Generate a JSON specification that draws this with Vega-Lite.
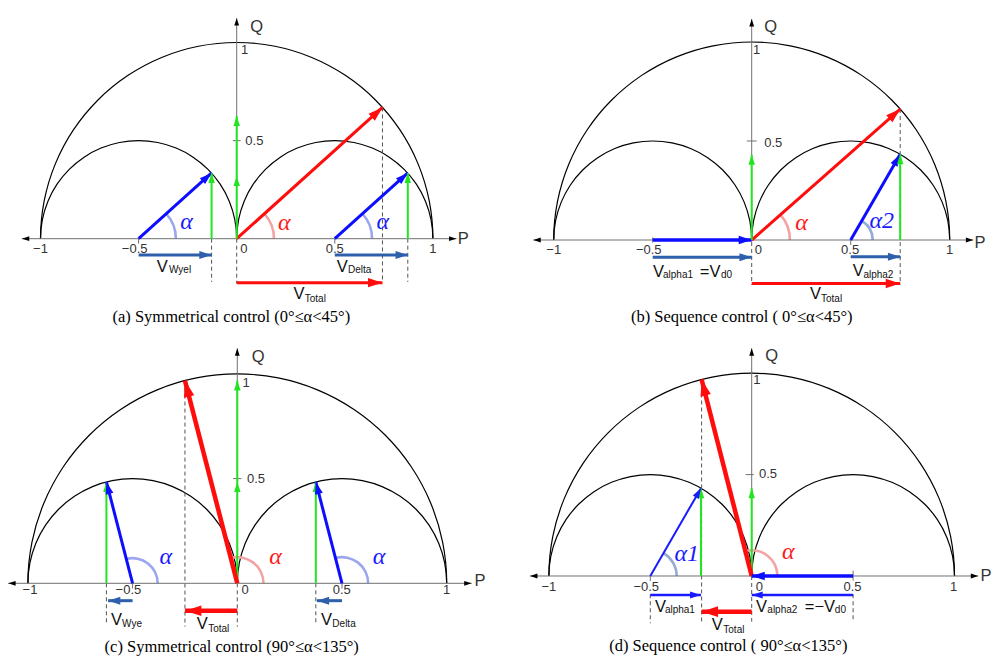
{
  "$schema": "https://vega.github.io/schema/vega-lite/v6.json",
  "padding": 0,
  "background": "white",
  "config": {"view": {"stroke": null}, "font": "Liberation Sans"},
  "datasets": {
    "circles": [
      {"x": 0, "y": 0, "r": 1, "t0": 0, "t1": 180},
      {"x": -0.5, "y": 0, "r": 0.5, "t0": 0, "t1": 180},
      {"x": 0.5, "y": 0, "r": 0.5, "t0": 0, "t1": 180}
    ],
    "pa": [
      {"g": "vec", "role": "axis", "x": 0, "y": 0, "x2": -1.095, "y2": 0, "deg": 180},
      {"g": "vec", "role": "axis", "x": 0, "y": 0, "x2": 1.12, "y2": 0, "deg": 0},
      {"g": "vec", "role": "axis", "x": 0, "y": 0, "x2": 0, "y2": 1.124, "deg": 90},
      {"g": "vec", "role": "red", "x": 0, "y": 0, "x2": 0.743, "y2": 0.669, "deg": 42},
      {"g": "vec", "role": "blue", "x": -0.5, "y": 0, "x2": -0.128, "y2": 0.335, "deg": 42},
      {"g": "vec", "role": "blue", "x": 0.5, "y": 0, "x2": 0.872, "y2": 0.335, "deg": 42},
      {"g": "vec", "role": "green", "x": -0.128, "y": 0, "x2": -0.128, "y2": 0.335, "deg": 90},
      {"g": "vec", "role": "green", "x": 0.872, "y": 0, "x2": 0.872, "y2": 0.335, "deg": 90},
      {"g": "vec", "role": "green", "x": 0, "y": 0, "x2": 0, "y2": 0.32, "deg": 90},
      {"g": "vec", "role": "green", "x": 0, "y": 0.32, "x2": 0, "y2": 0.625, "deg": 90},
      {"g": "vec", "role": "steel", "x": -0.5, "y": -0.083, "x2": -0.128, "y2": -0.083, "deg": 0},
      {"g": "vec", "role": "steel", "x": 0.5, "y": -0.083, "x2": 0.872, "y2": -0.083, "deg": 0},
      {"g": "vec", "role": "red", "x": 0, "y": -0.224, "x2": 0.743, "y2": -0.224, "deg": 0},
      {"g": "tk", "x": -0.02, "y": 0.5, "x2": 0.02, "y2": 0.5},
      {"g": "tk", "x": -0.5, "y": 0, "x2": -0.5, "y2": -0.025},
      {"g": "tk", "x": 0.5, "y": 0, "x2": 0.5, "y2": -0.025},
      {"g": "dash", "x": -0.128, "y": 0, "x2": -0.128, "y2": -0.22},
      {"g": "dash", "x": 0.872, "y": 0, "x2": 0.872, "y2": -0.22},
      {"g": "dash", "x": 0.743, "y": 0.669, "x2": 0.743, "y2": -0.22},
      {"g": "dash", "x": 0, "y": 0, "x2": 0, "y2": -0.228},
      {"g": "arc", "role": "lblue", "x": -0.5, "y": 0, "r": 0.19, "t0": 0, "t1": 42},
      {"g": "arc", "role": "lred", "x": 0, "y": 0, "r": 0.19, "t0": 0, "t1": 42},
      {"g": "arc", "role": "lblue", "x": 0.5, "y": 0, "r": 0.19, "t0": 0, "t1": 42},
      {"g": "num", "x": -1, "y": -0.05, "t": "−1"},
      {"g": "num", "x": -0.52, "y": -0.05, "t": "−0.5"},
      {"g": "num", "x": 0.037, "y": -0.05, "t": "0"},
      {"g": "num", "x": 0.5, "y": -0.05, "t": "0.5"},
      {"g": "num", "x": 1.0, "y": -0.05, "t": "1"},
      {"g": "num", "x": 0.09, "y": 0.5, "t": "0.5"},
      {"g": "num", "x": 0.04, "y": 0.962, "t": "1"},
      {"g": "pq", "x": 1.155, "y": 0, "t": "P"},
      {"g": "pq", "x": 0.102, "y": 1.077, "t": "Q"},
      {"g": "V", "x": -0.408, "y": -0.168, "t": "V"},
      {"g": "V", "x": 0.51, "y": -0.168, "t": "V"},
      {"g": "V", "x": 0.289, "y": -0.309, "t": "V"},
      {"g": "sub", "x": -0.345, "y": -0.176, "t": "Wyel"},
      {"g": "sub", "x": 0.567, "y": -0.176, "t": "Delta"},
      {"g": "sub", "x": 0.347, "y": -0.321, "t": "Total"},
      {"g": "al", "role": "tblue", "x": -0.255, "y": 0.087, "t": "α"},
      {"g": "al", "role": "tred", "x": 0.243, "y": 0.08, "t": "α"},
      {"g": "al", "role": "tblue", "x": 0.744, "y": 0.087, "t": "α"}
    ],
    "pb": [
      {"g": "vec", "role": "axis", "x": 0, "y": 0, "x2": -1.103, "y2": 0, "deg": 180},
      {"g": "vec", "role": "axis", "x": 0, "y": 0, "x2": 1.119, "y2": 0, "deg": 0},
      {"g": "vec", "role": "axis", "x": 0, "y": 0, "x2": 0, "y2": 1.116, "deg": 90},
      {"g": "vec", "role": "red", "x": 0, "y": 0, "x2": 0.75, "y2": 0.661, "deg": 41.4},
      {"g": "vec", "role": "bluethick", "x": -0.5, "y": 0, "x2": 0, "y2": 0, "deg": 0},
      {"g": "vec", "role": "blue", "x": 0.5, "y": 0, "x2": 0.75, "y2": 0.433, "deg": 60},
      {"g": "vec", "role": "green", "x": 0, "y": 0, "x2": 0, "y2": 0.43, "deg": 90},
      {"g": "vec", "role": "green", "x": 0.75, "y": 0, "x2": 0.75, "y2": 0.433, "deg": 90},
      {"g": "vec", "role": "steel", "x": -0.5, "y": -0.087, "x2": 0, "y2": -0.087, "deg": 0},
      {"g": "vec", "role": "steel", "x": 0.5, "y": -0.085, "x2": 0.75, "y2": -0.085, "deg": 0},
      {"g": "vec", "role": "red", "x": 0, "y": -0.22, "x2": 0.75, "y2": -0.22, "deg": 0},
      {"g": "tk", "x": -0.025, "y": 0.5, "x2": 0.025, "y2": 0.5},
      {"g": "tk", "x": -0.5, "y": 0.013, "x2": -0.5, "y2": -0.013},
      {"g": "tk", "x": 0.5, "y": 0, "x2": 0.5, "y2": -0.025},
      {"g": "dash", "x": 0.75, "y": 0.661, "x2": 0.75, "y2": -0.225},
      {"g": "dash", "x": 0, "y": -0.01, "x2": 0, "y2": -0.225},
      {"g": "arc", "role": "lred", "x": 0, "y": 0, "r": 0.193, "t0": 0, "t1": 41.4},
      {"g": "arc", "role": "gblue", "x": 0.5, "y": 0, "r": 0.111, "t0": 0, "t1": 60},
      {"g": "num", "x": -1, "y": -0.05, "t": "−1"},
      {"g": "num", "x": -0.52, "y": -0.05, "t": "−0.5"},
      {"g": "num", "x": 0.033, "y": -0.05, "t": "0"},
      {"g": "num", "x": 0.497, "y": -0.05, "t": "0.5"},
      {"g": "num", "x": 1.0, "y": -0.05, "t": "1"},
      {"g": "num", "x": 0.109, "y": 0.49, "t": "0.5"},
      {"g": "num", "x": 0.025, "y": 0.96, "t": "1"},
      {"g": "pq", "x": 1.153, "y": -0.015, "t": "P"},
      {"g": "pq", "x": 0.096, "y": 1.074, "t": "Q"},
      {"g": "V", "x": -0.498, "y": -0.185, "t": "V"},
      {"g": "V", "x": -0.262, "y": -0.185, "t": "=V"},
      {"g": "V", "x": 0.51, "y": -0.182, "t": "V"},
      {"g": "V", "x": 0.294, "y": -0.3, "t": "V"},
      {"g": "sub", "x": -0.448, "y": -0.19, "t": "alpha1"},
      {"g": "sub", "x": -0.155, "y": -0.19, "t": "d0"},
      {"g": "sub", "x": 0.564, "y": -0.19, "t": "alpha2"},
      {"g": "sub", "x": 0.35, "y": -0.312, "t": "Total"},
      {"g": "al", "role": "tred", "x": 0.252, "y": 0.084, "t": "α"},
      {"g": "al", "role": "tblue", "x": 0.657, "y": 0.096, "t": "α2"}
    ],
    "pc": [
      {"g": "vec", "role": "axis", "x": 0, "y": 0, "x2": -1.094, "y2": 0, "deg": 180},
      {"g": "vec", "role": "axis", "x": 0, "y": 0, "x2": 1.119, "y2": 0, "deg": 0},
      {"g": "vec", "role": "axis", "x": 0, "y": 0, "x2": 0, "y2": 1.122, "deg": 90},
      {"g": "vec", "role": "green", "x": 0, "y": 0, "x2": 0, "y2": 0.484, "deg": 90},
      {"g": "vec", "role": "green", "x": 0, "y": 0.484, "x2": 0, "y2": 0.968, "deg": 90},
      {"g": "vec", "role": "redthick", "x": 0, "y": 0, "x2": -0.25, "y2": 0.968, "deg": 104.5},
      {"g": "vec", "role": "green", "x": -0.625, "y": 0, "x2": -0.625, "y2": 0.484, "deg": 90},
      {"g": "vec", "role": "green", "x": 0.375, "y": 0, "x2": 0.375, "y2": 0.484, "deg": 90},
      {"g": "vec", "role": "blue", "x": -0.5, "y": 0, "x2": -0.625, "y2": 0.484, "deg": 104.5},
      {"g": "vec", "role": "blue", "x": 0.5, "y": 0, "x2": 0.375, "y2": 0.484, "deg": 104.5},
      {"g": "vec", "role": "steel", "x": -0.5, "y": -0.083, "x2": -0.617, "y2": -0.083, "deg": 180},
      {"g": "vec", "role": "steel", "x": 0.5, "y": -0.083, "x2": 0.38, "y2": -0.083, "deg": 180},
      {"g": "vec", "role": "redthick", "x": 0, "y": -0.131, "x2": -0.25, "y2": -0.131, "deg": 180},
      {"g": "tk", "x": -0.02, "y": 0.5, "x2": 0.02, "y2": 0.5},
      {"g": "tk", "x": -0.5, "y": 0, "x2": -0.5, "y2": -0.025},
      {"g": "tk", "x": 0.5, "y": 0, "x2": 0.5, "y2": -0.025},
      {"g": "dash", "x": -0.25, "y": 0.968, "x2": -0.25, "y2": -0.207},
      {"g": "dash", "x": -0.625, "y": 0, "x2": -0.625, "y2": -0.19},
      {"g": "dash", "x": 0, "y": 0, "x2": 0, "y2": -0.207},
      {"g": "dash", "x": 0.375, "y": 0, "x2": 0.375, "y2": -0.19},
      {"g": "arc", "role": "lblue", "x": -0.5, "y": 0, "r": 0.12, "t0": 0, "t1": 104.5},
      {"g": "arc", "role": "lred", "x": 0, "y": 0, "r": 0.125, "t0": 0, "t1": 104.5},
      {"g": "arc", "role": "lblue", "x": 0.5, "y": 0, "r": 0.125, "t0": 0, "t1": 104.5},
      {"g": "num", "x": -0.99, "y": -0.034, "t": "−1"},
      {"g": "num", "x": -0.52, "y": -0.034, "t": "−0.5"},
      {"g": "num", "x": 0.037, "y": -0.034, "t": "0"},
      {"g": "num", "x": 0.499, "y": -0.034, "t": "0.5"},
      {"g": "num", "x": 1.0, "y": -0.034, "t": "1"},
      {"g": "num", "x": 0.089, "y": 0.5, "t": "0.5"},
      {"g": "num", "x": 0.042, "y": 0.955, "t": "1"},
      {"g": "pq", "x": 1.159, "y": 0.012, "t": "P"},
      {"g": "pq", "x": 0.1, "y": 1.079, "t": "Q"},
      {"g": "V", "x": -0.603, "y": -0.199, "t": "V"},
      {"g": "V", "x": -0.194, "y": -0.218, "t": "V"},
      {"g": "V", "x": 0.4, "y": -0.199, "t": "V"},
      {"g": "sub", "x": -0.55, "y": -0.207, "t": "Wye"},
      {"g": "sub", "x": -0.139, "y": -0.231, "t": "Total"},
      {"g": "sub", "x": 0.454, "y": -0.207, "t": "Delta"},
      {"g": "al", "role": "tblue", "x": -0.342, "y": 0.124, "t": "α"},
      {"g": "al", "role": "tred", "x": 0.183, "y": 0.124, "t": "α"},
      {"g": "al", "role": "tblue", "x": 0.677, "y": 0.124, "t": "α"}
    ],
    "pd": [
      {"g": "vec", "role": "axis", "x": 0, "y": 0, "x2": -1.093, "y2": 0, "deg": 180},
      {"g": "vec", "role": "axis", "x": 0, "y": 0, "x2": 1.117, "y2": 0, "deg": 0},
      {"g": "vec", "role": "axis", "x": 0, "y": 0, "x2": 0, "y2": 1.123, "deg": 90},
      {"g": "vec", "role": "green", "x": -0.25, "y": 0, "x2": -0.25, "y2": 0.433, "deg": 90},
      {"g": "vec", "role": "green", "x": 0, "y": 0, "x2": 0, "y2": 0.433, "deg": 90},
      {"g": "vec", "role": "bluethin", "x": -0.5, "y": 0, "x2": -0.25, "y2": 0.433, "deg": 60},
      {"g": "vec", "role": "redthick", "x": 0, "y": 0, "x2": -0.247, "y2": 0.969, "deg": 104.3},
      {"g": "vec", "role": "bluethick", "x": 0.5, "y": 0, "x2": 0, "y2": 0, "deg": 180},
      {"g": "vec", "role": "blue2", "x": 0.5, "y": -0.094, "x2": 0, "y2": -0.094, "deg": 180},
      {"g": "vec", "role": "blue2", "x": -0.5, "y": -0.094, "x2": -0.25, "y2": -0.094, "deg": 0},
      {"g": "vec", "role": "redthick", "x": 0, "y": -0.176, "x2": -0.247, "y2": -0.176, "deg": 180},
      {"g": "tk", "x": -0.03, "y": 0.5, "x2": 0.01, "y2": 0.5},
      {"g": "tk", "x": 0.5, "y": 0.026, "x2": 0.5, "y2": -0.023},
      {"g": "tk", "x": -0.5, "y": 0, "x2": -0.5, "y2": -0.025},
      {"g": "dash", "x": -0.247, "y": 0.969, "x2": -0.247, "y2": -0.233},
      {"g": "dash", "x": -0.5, "y": -0.09, "x2": -0.5, "y2": -0.233},
      {"g": "dash", "x": 0, "y": 0, "x2": 0, "y2": -0.225},
      {"g": "dash", "x": 0.5, "y": -0.09, "x2": 0.5, "y2": -0.225},
      {"g": "arc", "role": "gblue", "x": -0.5, "y": 0, "r": 0.13, "t0": 0, "t1": 60},
      {"g": "arc", "role": "lred", "x": 0, "y": 0, "r": 0.127, "t0": 0, "t1": 104.3},
      {"g": "num", "x": -1, "y": -0.053, "t": "−1"},
      {"g": "num", "x": -0.52, "y": -0.053, "t": "−0.5"},
      {"g": "num", "x": 0.038, "y": -0.053, "t": "0"},
      {"g": "num", "x": 0.497, "y": -0.053, "t": "0.5"},
      {"g": "num", "x": 0.995, "y": -0.053, "t": "1"},
      {"g": "num", "x": 0.08, "y": 0.501, "t": "0.5"},
      {"g": "num", "x": 0.025, "y": 0.966, "t": "1"},
      {"g": "pq", "x": 1.155, "y": 0, "t": "P"},
      {"g": "pq", "x": 0.099, "y": 1.085, "t": "Q"},
      {"g": "V", "x": -0.477, "y": -0.176, "t": "V"},
      {"g": "V", "x": 0.021, "y": -0.176, "t": "V"},
      {"g": "V", "x": 0.262, "y": -0.176, "t": "=−V"},
      {"g": "V", "x": -0.197, "y": -0.266, "t": "V"},
      {"g": "sub", "x": -0.428, "y": -0.181, "t": "alpha1"},
      {"g": "sub", "x": 0.077, "y": -0.181, "t": "alpha2"},
      {"g": "sub", "x": 0.41, "y": -0.181, "t": "d0"},
      {"g": "sub", "x": -0.14, "y": -0.279, "t": "Total"},
      {"g": "al", "role": "tblue", "x": -0.32, "y": 0.108, "t": "α1"},
      {"g": "al", "role": "tred", "x": 0.18, "y": 0.12, "t": "α"}
    ]
  },
  "columns": 2,
  "bounds": "flush",
  "spacing": {"row": 10, "column": 10},
  "concat": [
    {
      "width": 490, "height": 320,
      "title": {"text": "(a)  Symmetrical control (0°≤α<45°)", "orient": "bottom", "frame": "group", "anchor": "middle", "dx": -13.7, "offset": 1.5, "baseline": "alphabetic", "font": "Liberation Serif", "fontSize": 16.5, "fontWeight": "normal", "color": "#000"},
      "data": {"name": "pa"},
      "encoding": {
        "x": {"field": "x", "type": "quantitative", "scale": {"domain": [-1.2064, 1.291], "nice": false, "zero": false}, "axis": null},
        "y": {"field": "y", "type": "quantitative", "scale": {"domain": [-0.4144, 1.2166], "nice": false, "zero": false}, "axis": null}
      },
      "layer": [
        {"data": {"name": "circles"}, "mark": {"type": "arc", "color": "#000", "radiusOffset": 0.6, "radius2Offset": -0.6},
         "encoding": {"theta": {"field": "t0", "type": "quantitative", "scale": {"domain": [90, -270], "range": [0, 6.283185]}, "stack": null}, "theta2": {"field": "t1"}, "radius": {"field": "r", "type": "quantitative", "scale": {"type": "linear", "domain": [0, 1], "range": [0, 196.2]}}, "radius2": {"field": "r"}}},
        {"transform": [{"filter": "datum.g==='arc'"}], "mark": {"type": "arc", "radiusOffset": 1.3, "radius2Offset": -1.3},
         "encoding": {"theta": {"field": "t0", "type": "quantitative", "scale": {"domain": [90, -270], "range": [0, 6.283185]}, "stack": null}, "theta2": {"field": "t1"}, "radius": {"field": "r", "type": "quantitative", "scale": {"type": "linear", "domain": [0, 1], "range": [0, 196.2]}}, "radius2": {"field": "r"},
           "color": {"field": "role", "type": "nominal", "scale": {"domain": ["lblue", "lred", "gblue", "tblue", "tred"], "range": ["#9ba6f0", "#f3a3a3", "#93abd5", "#1a1aff", "#ff1a1a"]}, "legend": null}}},
        {"transform": [{"filter": "datum.g==='tk'"}], "mark": {"type": "rule", "color": "#707070", "strokeWidth": 1}, "encoding": {"x2": {"field": "x2"}, "y2": {"field": "y2"}}},
        {"transform": [{"filter": "datum.g==='dash'"}], "mark": {"type": "rule", "color": "#555555", "strokeWidth": 1, "strokeDash": [4, 3]}, "encoding": {"x2": {"field": "x2"}, "y2": {"field": "y2"}}},
        {"transform": [{"filter": "datum.g==='vec'"}], "mark": {"type": "rule"},
         "encoding": {"x2": {"field": "x2"}, "y2": {"field": "y2"},
           "stroke": {"field": "role", "type": "nominal", "scale": {"domain": ["axis", "red", "redthick", "blue", "bluethin", "bluethick", "blue2", "steel", "green"], "range": ["#707070", "#ff0d0d", "#ff0d0d", "#0d0dff", "#1a1aff", "#0d0dff", "#1a1aff", "#2d5fab", "#20e520"]}, "legend": null},
           "strokeWidth": {"field": "role", "type": "nominal", "scale": {"type": "ordinal", "domain": ["axis", "red", "redthick", "blue", "bluethin", "bluethick", "blue2", "steel", "green"], "range": [1, 3, 4.5, 3, 2, 3.5, 2.5, 3, 2]}, "legend": null}}},
        {"transform": [{"filter": "datum.g==='vec'"}], "mark": {"type": "point", "shape": "M0,0L-0.65,2L0.65,2Z", "filled": true, "opacity": 1, "strokeWidth": 0},
         "encoding": {"x": {"field": "x2", "type": "quantitative", "scale": {"domain": [-1.2064, 1.291], "nice": false, "zero": false}, "axis": null},
           "y": {"field": "y2", "type": "quantitative", "scale": {"domain": [-0.4144, 1.2166], "nice": false, "zero": false}, "axis": null},
           "angle": {"field": "deg", "type": "quantitative", "scale": {"domain": [90, -270], "range": [0, 360]}},
           "size": {"field": "role", "type": "nominal", "scale": {"type": "ordinal", "domain": ["axis", "red", "redthick", "blue", "bluethin", "bluethick", "blue2", "steel", "green"], "range": [55, 210, 270, 150, 110, 170, 120, 150, 100]}, "legend": null},
           "fill": {"field": "role", "type": "nominal", "scale": {"domain": ["axis", "red", "redthick", "blue", "bluethin", "bluethick", "blue2", "steel", "green"], "range": ["#000000", "#ff0d0d", "#ff0d0d", "#0d0dff", "#1a1aff", "#0d0dff", "#1a1aff", "#2d5fab", "#20e520"]}, "legend": null}}},
        {"transform": [{"filter": "datum.g==='num'"}], "mark": {"type": "text", "font": "Liberation Sans", "fontSize": 13, "color": "#333333", "align": "center", "baseline": "middle"}, "encoding": {"text": {"field": "t", "type": "nominal"}}},
        {"transform": [{"filter": "datum.g==='pq'"}], "mark": {"type": "text", "font": "Liberation Sans", "fontSize": 16.5, "color": "#333333", "align": "center", "baseline": "middle"}, "encoding": {"text": {"field": "t", "type": "nominal"}}},
        {"transform": [{"filter": "datum.g==='V'"}], "mark": {"type": "text", "font": "Liberation Sans", "fontSize": 16.5, "color": "#111111", "align": "left", "baseline": "alphabetic"}, "encoding": {"text": {"field": "t", "type": "nominal"}}},
        {"transform": [{"filter": "datum.g==='sub'"}], "mark": {"type": "text", "font": "Liberation Sans", "fontSize": 10, "color": "#111111", "align": "left", "baseline": "alphabetic"}, "encoding": {"text": {"field": "t", "type": "nominal"}}},
        {"transform": [{"filter": "datum.g==='al'"}], "mark": {"type": "text", "font": "Liberation Serif", "fontStyle": "italic", "fontSize": 24, "align": "center", "baseline": "middle"},
         "encoding": {"text": {"field": "t", "type": "nominal"}, "color": {"field": "role", "type": "nominal", "scale": {"domain": ["lblue", "lred", "gblue", "tblue", "tred"], "range": ["#9ba6f0", "#f3a3a3", "#93abd5", "#1a1aff", "#ff1a1a"]}, "legend": null}}}
      ]
    },
    {
      "width": 490, "height": 320,
      "title": {"text": "(b) Sequence control ( 0°≤α<45°)", "orient": "bottom", "frame": "group", "anchor": "middle", "dx": -3.3, "offset": 1.5, "baseline": "alphabetic", "font": "Liberation Serif", "fontSize": 16.5, "fontWeight": "normal", "color": "#000"},
      "data": {"name": "pb"},
      "encoding": {
        "x": {"field": "x", "type": "quantitative", "scale": {"domain": [-1.2712, 1.2035], "nice": false, "zero": false}, "axis": null},
        "y": {"field": "y", "type": "quantitative", "scale": {"domain": [-0.404, 1.2121], "nice": false, "zero": false}, "axis": null}
      },
      "layer": [
        {"data": {"name": "circles"}, "mark": {"type": "arc", "color": "#000", "radiusOffset": 0.6, "radius2Offset": -0.6},
         "encoding": {"theta": {"field": "t0", "type": "quantitative", "scale": {"domain": [90, -270], "range": [0, 6.283185]}, "stack": null}, "theta2": {"field": "t1"}, "radius": {"field": "r", "type": "quantitative", "scale": {"type": "linear", "domain": [0, 1], "range": [0, 198]}}, "radius2": {"field": "r"}}},
        {"transform": [{"filter": "datum.g==='arc'"}], "mark": {"type": "arc", "radiusOffset": 1.3, "radius2Offset": -1.3},
         "encoding": {"theta": {"field": "t0", "type": "quantitative", "scale": {"domain": [90, -270], "range": [0, 6.283185]}, "stack": null}, "theta2": {"field": "t1"}, "radius": {"field": "r", "type": "quantitative", "scale": {"type": "linear", "domain": [0, 1], "range": [0, 198]}}, "radius2": {"field": "r"},
           "color": {"field": "role", "type": "nominal", "scale": {"domain": ["lblue", "lred", "gblue", "tblue", "tred"], "range": ["#9ba6f0", "#f3a3a3", "#93abd5", "#1a1aff", "#ff1a1a"]}, "legend": null}}},
        {"transform": [{"filter": "datum.g==='tk'"}], "mark": {"type": "rule", "color": "#707070", "strokeWidth": 1}, "encoding": {"x2": {"field": "x2"}, "y2": {"field": "y2"}}},
        {"transform": [{"filter": "datum.g==='dash'"}], "mark": {"type": "rule", "color": "#555555", "strokeWidth": 1, "strokeDash": [4, 3]}, "encoding": {"x2": {"field": "x2"}, "y2": {"field": "y2"}}},
        {"transform": [{"filter": "datum.g==='vec'"}], "mark": {"type": "rule"},
         "encoding": {"x2": {"field": "x2"}, "y2": {"field": "y2"},
           "stroke": {"field": "role", "type": "nominal", "scale": {"domain": ["axis", "red", "redthick", "blue", "bluethin", "bluethick", "blue2", "steel", "green"], "range": ["#707070", "#ff0d0d", "#ff0d0d", "#0d0dff", "#1a1aff", "#0d0dff", "#1a1aff", "#2d5fab", "#20e520"]}, "legend": null},
           "strokeWidth": {"field": "role", "type": "nominal", "scale": {"type": "ordinal", "domain": ["axis", "red", "redthick", "blue", "bluethin", "bluethick", "blue2", "steel", "green"], "range": [1, 3, 4.5, 3, 2, 3.5, 2.5, 3, 2]}, "legend": null}}},
        {"transform": [{"filter": "datum.g==='vec'"}], "mark": {"type": "point", "shape": "M0,0L-0.65,2L0.65,2Z", "filled": true, "opacity": 1, "strokeWidth": 0},
         "encoding": {"x": {"field": "x2", "type": "quantitative", "scale": {"domain": [-1.2712, 1.2035], "nice": false, "zero": false}, "axis": null},
           "y": {"field": "y2", "type": "quantitative", "scale": {"domain": [-0.404, 1.2121], "nice": false, "zero": false}, "axis": null},
           "angle": {"field": "deg", "type": "quantitative", "scale": {"domain": [90, -270], "range": [0, 360]}},
           "size": {"field": "role", "type": "nominal", "scale": {"type": "ordinal", "domain": ["axis", "red", "redthick", "blue", "bluethin", "bluethick", "blue2", "steel", "green"], "range": [55, 210, 270, 150, 110, 170, 120, 150, 100]}, "legend": null},
           "fill": {"field": "role", "type": "nominal", "scale": {"domain": ["axis", "red", "redthick", "blue", "bluethin", "bluethick", "blue2", "steel", "green"], "range": ["#000000", "#ff0d0d", "#ff0d0d", "#0d0dff", "#1a1aff", "#0d0dff", "#1a1aff", "#2d5fab", "#20e520"]}, "legend": null}}},
        {"transform": [{"filter": "datum.g==='num'"}], "mark": {"type": "text", "font": "Liberation Sans", "fontSize": 13, "color": "#333333", "align": "center", "baseline": "middle"}, "encoding": {"text": {"field": "t", "type": "nominal"}}},
        {"transform": [{"filter": "datum.g==='pq'"}], "mark": {"type": "text", "font": "Liberation Sans", "fontSize": 16.5, "color": "#333333", "align": "center", "baseline": "middle"}, "encoding": {"text": {"field": "t", "type": "nominal"}}},
        {"transform": [{"filter": "datum.g==='V'"}], "mark": {"type": "text", "font": "Liberation Sans", "fontSize": 16.5, "color": "#111111", "align": "left", "baseline": "alphabetic"}, "encoding": {"text": {"field": "t", "type": "nominal"}}},
        {"transform": [{"filter": "datum.g==='sub'"}], "mark": {"type": "text", "font": "Liberation Sans", "fontSize": 10, "color": "#111111", "align": "left", "baseline": "alphabetic"}, "encoding": {"text": {"field": "t", "type": "nominal"}}},
        {"transform": [{"filter": "datum.g==='al'"}], "mark": {"type": "text", "font": "Liberation Serif", "fontStyle": "italic", "fontSize": 24, "align": "center", "baseline": "middle"},
         "encoding": {"text": {"field": "t", "type": "nominal"}, "color": {"field": "role", "type": "nominal", "scale": {"domain": ["lblue", "lred", "gblue", "tblue", "tred"], "range": ["#9ba6f0", "#f3a3a3", "#93abd5", "#1a1aff", "#ff1a1a"]}, "legend": null}}}
      ]
    },
    {
      "width": 490, "height": 320,
      "title": {"text": "(c)  Symmetrical control (90°≤α<135°)", "orient": "bottom", "frame": "group", "anchor": "middle", "dx": -13.3, "offset": 1.7, "baseline": "alphabetic", "font": "Liberation Serif", "fontSize": 16.5, "fontWeight": "normal", "color": "#000"},
      "data": {"name": "pc"},
      "encoding": {
        "x": {"field": "x", "type": "quantitative", "scale": {"domain": [-1.1332, 1.2068], "nice": false, "zero": false}, "axis": null},
        "y": {"field": "y", "type": "quantitative", "scale": {"domain": [-0.3185, 1.2096], "nice": false, "zero": false}, "axis": null}
      },
      "layer": [
        {"data": {"name": "circles"}, "mark": {"type": "arc", "color": "#000", "radiusOffset": 0.6, "radius2Offset": -0.6},
         "encoding": {"theta": {"field": "t0", "type": "quantitative", "scale": {"domain": [90, -270], "range": [0, 6.283185]}, "stack": null}, "theta2": {"field": "t1"}, "radius": {"field": "r", "type": "quantitative", "scale": {"type": "linear", "domain": [0, 1], "range": [0, 209.4]}}, "radius2": {"field": "r"}}},
        {"transform": [{"filter": "datum.g==='arc'"}], "mark": {"type": "arc", "radiusOffset": 1.3, "radius2Offset": -1.3},
         "encoding": {"theta": {"field": "t0", "type": "quantitative", "scale": {"domain": [90, -270], "range": [0, 6.283185]}, "stack": null}, "theta2": {"field": "t1"}, "radius": {"field": "r", "type": "quantitative", "scale": {"type": "linear", "domain": [0, 1], "range": [0, 209.4]}}, "radius2": {"field": "r"},
           "color": {"field": "role", "type": "nominal", "scale": {"domain": ["lblue", "lred", "gblue", "tblue", "tred"], "range": ["#9ba6f0", "#f3a3a3", "#93abd5", "#1a1aff", "#ff1a1a"]}, "legend": null}}},
        {"transform": [{"filter": "datum.g==='tk'"}], "mark": {"type": "rule", "color": "#707070", "strokeWidth": 1}, "encoding": {"x2": {"field": "x2"}, "y2": {"field": "y2"}}},
        {"transform": [{"filter": "datum.g==='dash'"}], "mark": {"type": "rule", "color": "#555555", "strokeWidth": 1, "strokeDash": [4, 3]}, "encoding": {"x2": {"field": "x2"}, "y2": {"field": "y2"}}},
        {"transform": [{"filter": "datum.g==='vec'"}], "mark": {"type": "rule"},
         "encoding": {"x2": {"field": "x2"}, "y2": {"field": "y2"},
           "stroke": {"field": "role", "type": "nominal", "scale": {"domain": ["axis", "red", "redthick", "blue", "bluethin", "bluethick", "blue2", "steel", "green"], "range": ["#707070", "#ff0d0d", "#ff0d0d", "#0d0dff", "#1a1aff", "#0d0dff", "#1a1aff", "#2d5fab", "#20e520"]}, "legend": null},
           "strokeWidth": {"field": "role", "type": "nominal", "scale": {"type": "ordinal", "domain": ["axis", "red", "redthick", "blue", "bluethin", "bluethick", "blue2", "steel", "green"], "range": [1, 3, 4, 3, 2, 3.5, 2.5, 3, 2]}, "legend": null}}},
        {"transform": [{"filter": "datum.g==='vec'"}], "mark": {"type": "point", "shape": "M0,0L-0.65,2L0.65,2Z", "filled": true, "opacity": 1, "strokeWidth": 0},
         "encoding": {"x": {"field": "x2", "type": "quantitative", "scale": {"domain": [-1.1332, 1.2068], "nice": false, "zero": false}, "axis": null},
           "y": {"field": "y2", "type": "quantitative", "scale": {"domain": [-0.3185, 1.2096], "nice": false, "zero": false}, "axis": null},
           "angle": {"field": "deg", "type": "quantitative", "scale": {"domain": [90, -270], "range": [0, 360]}},
           "size": {"field": "role", "type": "nominal", "scale": {"type": "ordinal", "domain": ["axis", "red", "redthick", "blue", "bluethin", "bluethick", "blue2", "steel", "green"], "range": [55, 210, 250, 150, 110, 170, 120, 150, 100]}, "legend": null},
           "fill": {"field": "role", "type": "nominal", "scale": {"domain": ["axis", "red", "redthick", "blue", "bluethin", "bluethick", "blue2", "steel", "green"], "range": ["#000000", "#ff0d0d", "#ff0d0d", "#0d0dff", "#1a1aff", "#0d0dff", "#1a1aff", "#2d5fab", "#20e520"]}, "legend": null}}},
        {"transform": [{"filter": "datum.g==='num'"}], "mark": {"type": "text", "font": "Liberation Sans", "fontSize": 13, "color": "#333333", "align": "center", "baseline": "middle"}, "encoding": {"text": {"field": "t", "type": "nominal"}}},
        {"transform": [{"filter": "datum.g==='pq'"}], "mark": {"type": "text", "font": "Liberation Sans", "fontSize": 16.5, "color": "#333333", "align": "center", "baseline": "middle"}, "encoding": {"text": {"field": "t", "type": "nominal"}}},
        {"transform": [{"filter": "datum.g==='V'"}], "mark": {"type": "text", "font": "Liberation Sans", "fontSize": 16.5, "color": "#111111", "align": "left", "baseline": "alphabetic"}, "encoding": {"text": {"field": "t", "type": "nominal"}}},
        {"transform": [{"filter": "datum.g==='sub'"}], "mark": {"type": "text", "font": "Liberation Sans", "fontSize": 10, "color": "#111111", "align": "left", "baseline": "alphabetic"}, "encoding": {"text": {"field": "t", "type": "nominal"}}},
        {"transform": [{"filter": "datum.g==='al'"}], "mark": {"type": "text", "font": "Liberation Serif", "fontStyle": "italic", "fontSize": 24, "align": "center", "baseline": "middle"},
         "encoding": {"text": {"field": "t", "type": "nominal"}, "color": {"field": "role", "type": "nominal", "scale": {"domain": ["lblue", "lred", "gblue", "tblue", "tred"], "range": ["#9ba6f0", "#f3a3a3", "#93abd5", "#1a1aff", "#ff1a1a"]}, "legend": null}}}
      ]
    },
    {
      "width": 490, "height": 320,
      "title": {"text": "(d) Sequence control ( 90°≤α<135°)", "orient": "bottom", "frame": "group", "anchor": "middle", "dx": -16.7, "offset": 1, "baseline": "alphabetic", "font": "Liberation Serif", "fontSize": 16.5, "fontWeight": "normal", "color": "#000"},
      "data": {"name": "pd"},
      "encoding": {
        "x": {"field": "x", "type": "quantitative", "scale": {"domain": [-1.2411, 1.175], "nice": false, "zero": false}, "axis": null},
        "y": {"field": "y", "type": "quantitative", "scale": {"domain": [-0.3649, 1.213], "nice": false, "zero": false}, "axis": null}
      },
      "layer": [
        {"data": {"name": "circles"}, "mark": {"type": "arc", "color": "#000", "radiusOffset": 0.6, "radius2Offset": -0.6},
         "encoding": {"theta": {"field": "t0", "type": "quantitative", "scale": {"domain": [90, -270], "range": [0, 6.283185]}, "stack": null}, "theta2": {"field": "t1"}, "radius": {"field": "r", "type": "quantitative", "scale": {"type": "linear", "domain": [0, 1], "range": [0, 202.8]}}, "radius2": {"field": "r"}}},
        {"transform": [{"filter": "datum.g==='arc'"}], "mark": {"type": "arc", "radiusOffset": 1.3, "radius2Offset": -1.3},
         "encoding": {"theta": {"field": "t0", "type": "quantitative", "scale": {"domain": [90, -270], "range": [0, 6.283185]}, "stack": null}, "theta2": {"field": "t1"}, "radius": {"field": "r", "type": "quantitative", "scale": {"type": "linear", "domain": [0, 1], "range": [0, 202.8]}}, "radius2": {"field": "r"},
           "color": {"field": "role", "type": "nominal", "scale": {"domain": ["lblue", "lred", "gblue", "tblue", "tred"], "range": ["#9ba6f0", "#f3a3a3", "#93abd5", "#1a1aff", "#ff1a1a"]}, "legend": null}}},
        {"transform": [{"filter": "datum.g==='tk'"}], "mark": {"type": "rule", "color": "#707070", "strokeWidth": 1}, "encoding": {"x2": {"field": "x2"}, "y2": {"field": "y2"}}},
        {"transform": [{"filter": "datum.g==='dash'"}], "mark": {"type": "rule", "color": "#555555", "strokeWidth": 1, "strokeDash": [4, 3]}, "encoding": {"x2": {"field": "x2"}, "y2": {"field": "y2"}}},
        {"transform": [{"filter": "datum.g==='vec'"}], "mark": {"type": "rule"},
         "encoding": {"x2": {"field": "x2"}, "y2": {"field": "y2"},
           "stroke": {"field": "role", "type": "nominal", "scale": {"domain": ["axis", "red", "redthick", "blue", "bluethin", "bluethick", "blue2", "steel", "green"], "range": ["#707070", "#ff0d0d", "#ff0d0d", "#0d0dff", "#1a1aff", "#0d0dff", "#1a1aff", "#2d5fab", "#20e520"]}, "legend": null},
           "strokeWidth": {"field": "role", "type": "nominal", "scale": {"type": "ordinal", "domain": ["axis", "red", "redthick", "blue", "bluethin", "bluethick", "blue2", "steel", "green"], "range": [1, 3, 5, 3, 2, 3.5, 2.5, 3, 2]}, "legend": null}}},
        {"transform": [{"filter": "datum.g==='vec'"}], "mark": {"type": "point", "shape": "M0,0L-0.65,2L0.65,2Z", "filled": true, "opacity": 1, "strokeWidth": 0},
         "encoding": {"x": {"field": "x2", "type": "quantitative", "scale": {"domain": [-1.2411, 1.175], "nice": false, "zero": false}, "axis": null},
           "y": {"field": "y2", "type": "quantitative", "scale": {"domain": [-0.3649, 1.213], "nice": false, "zero": false}, "axis": null},
           "angle": {"field": "deg", "type": "quantitative", "scale": {"domain": [90, -270], "range": [0, 360]}},
           "size": {"field": "role", "type": "nominal", "scale": {"type": "ordinal", "domain": ["axis", "red", "redthick", "blue", "bluethin", "bluethick", "blue2", "steel", "green"], "range": [55, 210, 280, 150, 110, 170, 130, 150, 100]}, "legend": null},
           "fill": {"field": "role", "type": "nominal", "scale": {"domain": ["axis", "red", "redthick", "blue", "bluethin", "bluethick", "blue2", "steel", "green"], "range": ["#000000", "#ff0d0d", "#ff0d0d", "#0d0dff", "#1a1aff", "#0d0dff", "#1a1aff", "#2d5fab", "#20e520"]}, "legend": null}}},
        {"transform": [{"filter": "datum.g==='num'"}], "mark": {"type": "text", "font": "Liberation Sans", "fontSize": 13, "color": "#333333", "align": "center", "baseline": "middle"}, "encoding": {"text": {"field": "t", "type": "nominal"}}},
        {"transform": [{"filter": "datum.g==='pq'"}], "mark": {"type": "text", "font": "Liberation Sans", "fontSize": 16.5, "color": "#333333", "align": "center", "baseline": "middle"}, "encoding": {"text": {"field": "t", "type": "nominal"}}},
        {"transform": [{"filter": "datum.g==='V'"}], "mark": {"type": "text", "font": "Liberation Sans", "fontSize": 16.5, "color": "#111111", "align": "left", "baseline": "alphabetic"}, "encoding": {"text": {"field": "t", "type": "nominal"}}},
        {"transform": [{"filter": "datum.g==='sub'"}], "mark": {"type": "text", "font": "Liberation Sans", "fontSize": 10, "color": "#111111", "align": "left", "baseline": "alphabetic"}, "encoding": {"text": {"field": "t", "type": "nominal"}}},
        {"transform": [{"filter": "datum.g==='al'"}], "mark": {"type": "text", "font": "Liberation Serif", "fontStyle": "italic", "fontSize": 24, "align": "center", "baseline": "middle"},
         "encoding": {"text": {"field": "t", "type": "nominal"}, "color": {"field": "role", "type": "nominal", "scale": {"domain": ["lblue", "lred", "gblue", "tblue", "tred"], "range": ["#9ba6f0", "#f3a3a3", "#93abd5", "#1a1aff", "#ff1a1a"]}, "legend": null}}}
      ]
    }
  ]
}
